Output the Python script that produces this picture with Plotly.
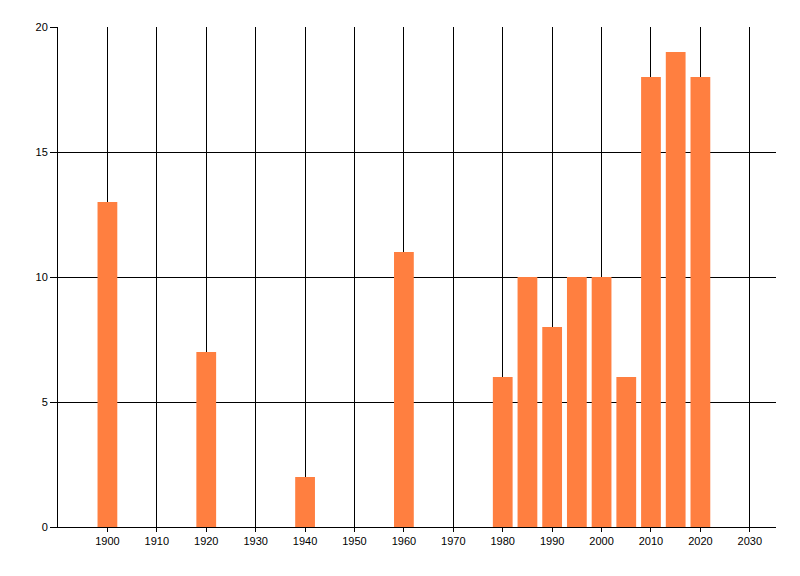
import plotly.graph_objects as go

years = [1900, 1920, 1940, 1960, 1980, 1985, 1990, 1995, 2000, 2005, 2010, 2015, 2020]
counts = [13, 7, 2, 11, 6, 10, 8, 10, 10, 6, 18, 19, 18]
x_ticks = list(range(1900, 2031, 10))
y_ticks = [0, 5, 10, 15, 20]

fig = go.Figure()
fig.add_trace(go.Bar(x=years, y=counts, width=4,
                     marker=dict(color="rgb(255,127,64)", line=dict(width=0))))

# page body has an 8px margin, so shrink the figure to fit the window
fig.update_layout(
    width=792, height=568,
    margin=dict(l=50, r=24, t=19, b=49),
    plot_bgcolor="white", paper_bgcolor="white",
    font=dict(family="Liberation Sans, Arial, sans-serif", size=11, color="black"),
    showlegend=False,
)
fig.update_xaxes(range=[1890, 2035.3], tickvals=x_ticks,
                 showgrid=True, gridcolor="black", gridwidth=1,
                 showline=True, linecolor="black", linewidth=1,
                 ticks="outside", ticklen=4, tickcolor="black",
                 zeroline=False)
fig.update_yaxes(range=[0, 20], tickvals=y_ticks,
                 showgrid=True, gridcolor="black", gridwidth=1,
                 showline=True, linecolor="black", linewidth=1,
                 ticks="outside", ticklen=7, tickcolor="black",
                 zeroline=False)

fig.write_html("out.html")
